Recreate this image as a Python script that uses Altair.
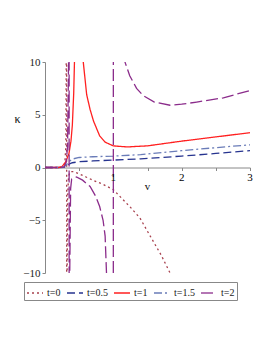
import altair as alt
import pandas as pd

series = ["t=0", "t=0.5", "t=1", "t=1.5", "t=2"]
colors = ["#A8414E", "#26338F", "#FF2020", "#6A7CB8", "#8B2C8B"]
dashes = [[2, 3], [8, 4], [1, 0], [8, 3, 2, 3], [12, 4]]

v_t0 = [0, 0.2, 0.26, 0.29, 0.305, 0.312, 0.316, 0.318, 0.322, 0.33, 0.345, 0.37, 0.42, 0.5, 0.6, 0.7, 0.85, 1.0, 1.12, 1.24, 1.39, 1.54, 1.7, 1.83, 1.9]
k_t0 = [0, 0, 0.05, 0.4, 2, 12, 300, -300, -12, -3, -0.8, -0.4, -0.4, -0.6, -0.9, -1.2, -1.6, -2.1, -2.9, -3.7, -4.8, -6.5, -8.3, -10, -11]

v_t05 = [0, 0.2, 0.27, 0.3, 0.33, 0.36, 0.4, 0.5, 0.7, 1.0, 1.4, 2.0, 2.5, 3.0]
k_t05 = [0, 0, 0.02, 0.05, 0.2, 0.35, 0.45, 0.55, 0.62, 0.7, 0.82, 1.08, 1.33, 1.6]

v_t1 = [0, 0.2, 0.25, 0.3, 0.35, 0.38, 0.4, 0.42, 0.435, 0.45, 0.48, 0.51, 0.54, 0.56, 0.61, 0.66, 0.71, 0.8, 0.88, 1.0, 1.2, 1.5, 2.0, 2.5, 3.0]
k_t1 = [0, 0, 0.1, 0.5, 1.3, 2.5, 4, 7, 11, 30, 200, 30, 14, 10, 6.9, 5.5, 4.4, 3.0, 2.4, 2.05, 1.95, 2.05, 2.5, 2.9, 3.3]

v_t15 = [0, 0.2, 0.28, 0.32, 0.36, 0.4, 0.5, 0.7, 1.0, 1.4, 2.0, 2.5, 3.0]
k_t15 = [0, 0, 0.05, 0.3, 0.6, 0.8, 0.95, 1.02, 1.08, 1.22, 1.6, 1.88, 2.15]

v_t2 = [0, 0.2, 0.28, 0.31, 0.33, 0.345, 0.35, 0.356, 0.362, 0.375, 0.39, 0.46, 0.55, 0.66, 0.74, 0.8, 0.85, 0.88, 0.9, 0.93, 0.995, 1.005, 1.1, 1.17, 1.24, 1.34, 1.44, 1.6, 1.83, 2.0, 2.22, 2.61, 3.0]
k_t2 = [0, 0, 0.05, 0.5, 2, 10, 300, -300, -10, -2, -1.1, -0.9, -1.2, -1.8, -2.7, -3.7, -5, -6.5, -10, -20, -400, 400, 20, 10, 8.7, 7.5, 6.8, 6.2, 5.9, 6.0, 6.2, 6.6, 7.3]

x_ticks = [1, 2, 3]
x_tick_labels = ["1", "2", "3"]
x_minor = [0.5, 1, 1.5, 2, 2.5, 3]
y_ticks = [-10, -5, 0, 5, 10]

rows = []
for name, vs, ks in zip(series, [v_t0, v_t05, v_t1, v_t15, v_t2], [k_t0, k_t05, k_t1, k_t15, k_t2]):
    for i, (a, b) in enumerate(zip(vs, ks)):
        rows.append({"t": name, "v": a, "k": b, "i": i})
df = pd.DataFrame(rows)

font = "Liberation Serif"

xscale = alt.Scale(domain=[0, 3], nice=False, zero=False)
yscale = alt.Scale(domain=[-10, 10], nice=False)

lines = alt.Chart(df).mark_line(clip=True, strokeWidth=1.3).encode(
    x=alt.X("v:Q", scale=xscale,
            axis=alt.Axis(title="v", values=x_minor, labels=False,
                          offset=-105.5, grid=False, tickSize=3,
                          titleX=102, titleY=19, titleAlign="center", titleBaseline="middle",
                          titleFontWeight="normal", titleFont=font, titleFontSize=11)),
    y=alt.Y("k:Q", scale=yscale,
            axis=alt.Axis(title="κ", values=y_ticks, grid=False, tickSize=3,
                          labelPadding=2, titleAngle=0, titleX=-28, titleY=56,
                          titleAlign="center", titleBaseline="middle",
                          titleFontWeight="normal", titleFont=font, titleFontSize=12)),
    color=alt.Color("t:N", scale=alt.Scale(domain=series, range=colors), title=None),
    strokeDash=alt.StrokeDash("t:N", scale=alt.Scale(domain=series, range=dashes), title=None),
    order=alt.Order("i:Q"),
)

xlabels = alt.Chart(pd.DataFrame({"v": x_ticks, "k": [0] * len(x_ticks), "lab": x_tick_labels})).mark_text(
    dy=4, baseline="top", align="center", font=font, fontSize=11, color="#000"
).encode(
    x=alt.X("v:Q", scale=xscale),
    y=alt.Y("k:Q", scale=yscale),
    text=alt.Text("lab:N"),
)

chart = alt.layer(lines, xlabels).properties(
    width=205, height=211,
    autosize=alt.AutoSizeParams(type="none"),
    padding={"left": 37, "top": 54, "right": 15, "bottom": 72},
).configure_view(stroke=None).configure_axis(
    labelFont=font, labelFontSize=11, labelColor="#222",
    domainColor="#888", tickColor="#888", titleColor="#111",
).configure_legend(
    orient="none", legendX=-21, legendY=220, direction="horizontal", columns=5,
    gridAlign="none",
    symbolType="stroke", symbolSize=256, symbolStrokeWidth=1.3,
    labelFont=font, labelFontSize=10, labelColor="#222", labelOffset=3,
    columnPadding=3, padding=2, strokeColor="#888",
)

chart.save("out.html", embed_options={"renderer": "svg", "actions": False})
